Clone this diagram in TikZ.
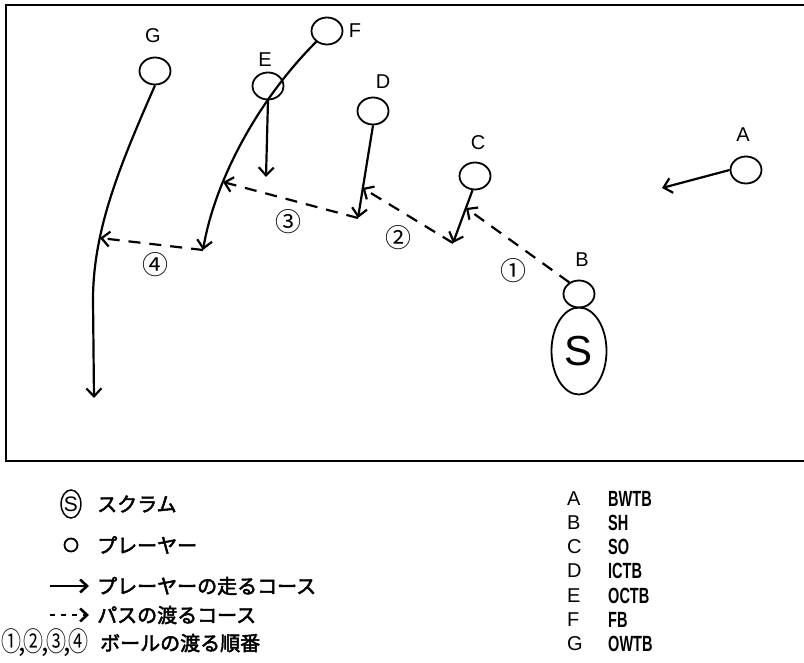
\documentclass[tikz,border=0pt]{standalone}
\usepackage{fontspec}
\usepackage{graphicx}
\setmainfont{Liberation Sans}
\newfontfamily\jpb{Noto Sans CJK JP}[FakeBold=2.5]
\newfontfamily\jpn{Noto Sans CJK JP}
\usetikzlibrary{arrows.meta,shapes.geometric}
\newcommand{\abbr}[1]{\scalebox{0.66}[1]{\bfseries #1}}
\newcommand{\cn}[1]{\scalebox{0.74}[1]{#1}}
\begin{document}
\begin{tikzpicture}[x=1pt,y=-1pt,
  player/.style={draw, ellipse, line width=1.8pt, minimum width=31pt, minimum height=27pt, inner sep=0pt},
  lbl/.style={font=\fontsize{20}{20}\selectfont, inner sep=0pt},
  num/.style={font=\jpn\fontsize{26}{26}\selectfont, inner sep=0pt},
  tip/.style={-{Straight Barb[length=8pt,width=15pt]}},
  run/.style={line width=2.2pt, tip},
  pass/.style={line width=2.2pt, dash pattern=on 12pt off 9pt, tip},
  legtxt/.style={font=\jpb\fontsize{20}{20}\selectfont, inner sep=0pt, anchor=west},
  role/.style={font=\fontsize{20}{20}\selectfont, inner sep=0pt, anchor=west},
  rolename/.style={font=\fontsize{22}{22}\selectfont, inner sep=0pt, anchor=west},
]
\useasboundingbox (0,0) rectangle (804,663);
% frame (open at right)
\draw[line width=2.8pt] (804,5) -- (6,5) -- (6,461) -- (804,461);

% players
\node[player] (G) at (155,71) {};
\node[player] (F) at (327,31) {};
\node[player] (E) at (268,86) {};
\node[player] (D) at (373,111) {};
\node[player] (C) at (475,176) {};
\node[player] (A) at (746,170) {};
\node[player] (B) at (579,294) {};
\node[draw, ellipse, line width=1.8pt, minimum width=55pt, minimum height=87pt, inner sep=0pt,
      font=\fontsize{42}{42}\selectfont] (S) at (579,351) {S};

% player labels
\node[lbl] (lG) at (153,36) {G};
\node[lbl] (lF) at (355,31) {F};
\node[lbl] (lE) at (265,60) {E};
\node[lbl] (lD) at (383,82) {D};
\node[lbl] (lC) at (478,143) {C};
\node[lbl] (lA) at (743,135) {A};
\node[lbl] (lB) at (582,260) {B};

% run ends and pass targets
\coordinate (aEnd) at (662,188);
\coordinate (cEnd) at (453,243);
\coordinate (dEnd) at (358,218);
\coordinate (eEnd) at (266,177);
\coordinate (fEnd) at (203,250);
\coordinate (gMid) at (93,300);
\coordinate (gEnd) at (94,398);
\coordinate (p1) at (466,208);
\coordinate (p2) at (362.5,188);
\coordinate (p3) at (223,182);
\coordinate (p4) at (100,238);

% running courses
\draw[run] (A.west) -- (aEnd);
\draw[run] (C.260) -- (cEnd);
\draw[run] (D.south) -- (dEnd);
\draw[run] (E.south) -- (eEnd);
\draw[run] (F.225) .. controls (258,100) and (215,180) .. (fEnd);
\draw[run] (G.south) .. controls (120,165) and (93,230) .. (gMid) -- (gEnd);

% passes
\draw[pass] (B.130) -- (p1);
\draw[pass] (cEnd) -- (p2);
\draw[pass] (dEnd) -- (p3);
\draw[pass] (fEnd) -- (p4);

% pass order
\node[num] (n1) at (513,271) {①};
\node[num] (n2) at (398,238) {②};
\node[num] (n3) at (288,222) {③};
\node[num] (n4) at (155,265) {④};

% legend left
\node[draw, ellipse, line width=1.5pt, minimum width=17pt, minimum height=28pt, inner sep=0pt,
      font=\fontsize{21}{21}\selectfont] (kS) at (71,504) {S};
\node[legtxt] (tS) at (97,504) {スクラム};
\node[draw, circle, line width=1.8pt, minimum size=13pt, inner sep=0pt] (kP) at (71,545) {};
\node[legtxt] (tP) at (97,545) {プレーヤー};
\coordinate (kR1) at (50,586);
\coordinate (kR2) at (89,586);
\draw[line width=2pt, -{Straight Barb[length=7pt,width=13pt,line width=2.6pt]}] (kR1) -- (kR2);
\node[legtxt] (tR) at (97,586) {プレーヤーの走るコース};
\coordinate (kD1) at (50,615);
\coordinate (kD2) at (89,615);
\draw[line width=2pt, dash pattern=on 5pt off 6pt, -{Straight Barb[length=7pt,width=13pt,line width=2.6pt]}] (kD1) -- (kD2);
\node[legtxt] (tD) at (97,615) {パスの渡るコース};
\node[inner sep=0pt, anchor=west, font=\jpn\fontsize{27}{27}\selectfont] (kN) at (1,643)
  {\cn{①}\kern-2.5pt,\kern-2.5pt\cn{②}\kern-2.5pt,\kern-2.5pt\cn{③}\kern-2.5pt,\kern-2.5pt\cn{④}};
\node[legtxt] (tN) at (100,643) {ボールの渡る順番};

% legend right
\node[role] (rA) at (567,499) {A};
\node[rolename] (nA) at (608,499) {\abbr{BWTB}};
\node[role] (rB) at (567,523) {B};
\node[rolename] (nB) at (608,523) {\abbr{SH}};
\node[role] (rC) at (567,547) {C};
\node[rolename] (nC) at (608,547) {\abbr{SO}};
\node[role] (rD) at (567,571) {D};
\node[rolename] (nD) at (608,571) {\abbr{ICTB}};
\node[role] (rE) at (567,596) {E};
\node[rolename] (nE) at (608,596) {\abbr{OCTB}};
\node[role] (rF) at (567,620) {F};
\node[rolename] (nF) at (608,620) {\abbr{FB}};
\node[role] (rG) at (567,644) {G};
\node[rolename] (nG) at (608,644) {\abbr{OWTB}};
\end{tikzpicture}
\end{document}
